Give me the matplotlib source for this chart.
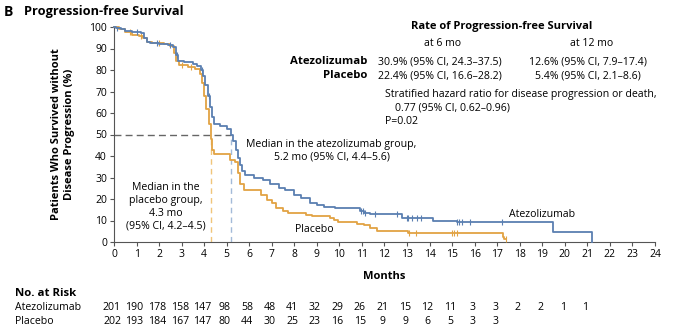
import numpy as np
import matplotlib
matplotlib.use("Agg")
import matplotlib.pyplot as plt

plt.rcParams['font.family'] = ['Open Sans', 'DejaVu Sans']

# Kaplan-Meier step points (months, % progression-free)
atezo_t = [0, 0.1, 0.3, 0.5, 0.8, 1.2, 1.35, 1.45, 1.6, 2.0, 2.4, 2.6, 2.75, 2.85, 3.1, 3.5, 3.7,
           3.85, 3.95, 4.05, 4.15, 4.25, 4.35, 4.45, 4.7, 5.0, 5.2, 5.3, 5.4, 5.5, 5.6, 5.7, 5.8,
           6.2, 6.6, 6.9, 7.3, 7.6, 8.0, 8.3, 8.7, 9.0, 9.3, 9.8, 10.9, 11.1, 11.35, 12.76, 14.15,
           15.2, 19.47, 21.2]
atezo_s = [100, 99.5, 99, 98, 97.5, 97, 95, 93, 92.5, 92, 91.5, 90.5, 87, 84, 83.5, 83, 82,
           80, 77, 73, 68, 63, 58, 55, 54, 52.5, 50, 47, 43, 39, 36, 33, 31,
           30, 29, 27, 25, 24, 22, 20.5, 18, 17, 16.3, 15.8, 14.5, 13.6, 13, 11, 9.8,
           9.1, 4.8, 0]
atezo_cens = [0.15, 1.0, 1.9, 2.5, 2.8, 3.9, 4.2, 10.95, 11.05, 11.13, 11.58, 12.54, 12.98, 13.04,
              13.2, 13.42, 13.6, 15.2, 15.3, 15.45, 15.8, 17.2]

plac_t = [0, 0.2, 0.5, 0.8, 1.1, 1.3, 1.45, 1.7, 2.2, 2.5, 2.65, 2.75, 2.9, 3.3, 3.6, 3.8, 3.9,
          4.0, 4.1, 4.2, 4.3, 4.35, 4.45, 5.15, 5.35, 5.5, 5.6, 5.75, 6.5, 6.8, 7.0, 7.2, 7.5,
          7.7, 8.5, 8.8, 9.6, 9.75, 9.95, 10.8, 11.1, 11.35, 11.65, 13.05, 17.24, 17.3]
plac_s = [100, 99, 97.5, 96.5, 96, 95, 93, 92.5, 92, 91, 88, 84, 82.5, 81.5, 80.5, 78, 74,
          68, 62, 55, 48, 43, 41, 38, 37, 32, 27, 24, 22, 19.5, 18, 16, 14.5,
          13.5, 12.5, 12, 11.3, 10.2, 9.4, 8.5, 7.9, 6.5, 5.1, 4, 2.5, 1.2]
plac_end = 17.4
plac_cens = [0.7, 1.2, 2.0, 3.0, 3.4, 13.1, 13.4, 15.0, 15.1, 15.2, 17.4]

months = list(range(0, 25))
risk_months_a = list(range(0, 22))
risk_atezo = [201, 190, 178, 158, 147, 98, 58, 48, 41, 32, 29, 26, 21, 15, 12, 11, 3, 3, 2, 2, 1, 1]
risk_months_p = list(range(0, 18))
risk_plac = [202, 193, 184, 167, 147, 80, 44, 30, 25, 23, 16, 15, 9, 9, 6, 5, 3, 3]

median_atezo = 5.2
median_plac = 4.3

blue = '#5a7fb1'
orange = '#e2a343'
blue_l = '#a3bad8'
orange_l = '#f0c57a'

def step_at(t_list, s_list, x):
    i = np.searchsorted(t_list, x, side='right') - 1
    return np.array(s_list)[i]

fig = plt.figure(figsize=(6.8, 3.32), dpi=100)
ax = fig.add_axes([114 / 680, 1 - 242 / 332, 541 / 680, 215 / 332])

ax.step(atezo_t, atezo_s, where='post', color=blue, lw=1.3, zorder=4, clip_on=False)
ax.step(plac_t + [plac_end], plac_s + [plac_s[-1]], where='post', color=orange, lw=1.3,
        zorder=3, clip_on=False)
ax.plot(atezo_cens, step_at(atezo_t, atezo_s, atezo_cens), '|', color=blue, ms=5, mew=0.8, zorder=4)
ax.plot(plac_cens, step_at(plac_t, plac_s, plac_cens), '|', color=orange, ms=5, mew=0.8, zorder=3)

ax.plot([0, median_atezo], [50, 50], ls=(0, (5, 3)), color='#666666', lw=1.0, zorder=2)
ax.plot([median_plac, median_plac], [0, 50], ls=(0, (4, 3)), color=orange_l, lw=1.0, zorder=2)
ax.plot([median_atezo, median_atezo], [0, 50], ls=(0, (4, 3)), color=blue_l, lw=1.0, zorder=2)

ax.set_xlim(0, 24)
ax.set_ylim(0, 100)
ax.set_xticks(months)
ax.set_yticks(range(0, 101, 10))
for s in ['top', 'right']:
    ax.spines[s].set_visible(False)
for s in ['left', 'bottom']:
    ax.spines[s].set_color('#555555')
    ax.spines[s].set_linewidth(0.8)
ax.tick_params(labelsize=7.5, length=3, width=0.8, color='#555555', pad=2)

ax.set_xlabel('Months', fontsize=8, fontweight='bold', labelpad=8)
ax.set_ylabel('Patients Who Survived without\nDisease Progression (%)', fontsize=8,
              fontweight='bold', linespacing=1.3, labelpad=10)

fs = 7.6
ax.text(542 / 22.54 - 114 / 22.54, 13, 'Atezolizumab', fontsize=fs, ha='center', va='center')
ax.text(314 / 22.54 - 114 / 22.54, 6, 'Placebo', fontsize=fs, ha='center', va='center')
ax.text(2.3, 16.3, 'Median in the\nplacebo group,\n4.3 mo\n(95% CI, 4.2\u20134.5)', fontsize=fs,
        ha='center', va='center', linespacing=1.25)
ax.text(9.65, 42.5, 'Median in the atezolizumab group,\n5.2 mo (95% CI, 4.4\u20135.6)', fontsize=fs,
        ha='center', va='center', linespacing=1.25)

def ft(x, y, s, **kw):
    fig.text(x / 680, 1 - y / 332, s, fontsize=kw.pop('fontsize', fs), va='center', **kw)

ft(4, 12, 'B', fontweight='bold', fontsize=10)
ft(24, 12, 'Progression-free Survival', fontweight='bold', fontsize=9.2)
ft(502, 27, 'Rate of Progression-free Survival', fontweight='bold', ha='center', fontsize=8)
ft(443, 43, 'at 6 mo', ha='center')
ft(592, 43, 'at 12 mo', ha='center')
ft(367, 62, 'Atezolizumab', fontweight='bold', ha='right', fontsize=8.2)
ft(367, 76, 'Placebo', fontweight='bold', ha='right', fontsize=8.2)
ft(378, 62, '30.9% (95% CI, 24.3\u201337.5)')
ft(378, 76, '22.4% (95% CI, 16.6\u201328.2)')
ft(529, 62, '12.6% (95% CI, 7.9\u201317.4)')
ft(535, 76, '5.4% (95% CI, 2.1\u20138.6)')
ft(385, 94, 'Stratified hazard ratio for disease progression or death,')
ft(395, 108, '0.77 (95% CI, 0.62\u20130.96)')
ft(385, 121, 'P=0.02')

ft(15, 293, 'No. at Risk', fontweight='bold', fontsize=8.2)
ft(15, 308, 'Atezolizumab')
ft(15, 322, 'Placebo')
for m, n in zip(risk_months_a, risk_atezo):
    x_px = 114 + m * 541 / 24
    ft(x_px - 2, 308, str(n), ha='center')
for m, n in zip(risk_months_p, risk_plac):
    x_px = 114 + m * 541 / 24
    ft(x_px - 2, 322, str(n), ha='center')

fig.savefig('out.png', dpi=100)
